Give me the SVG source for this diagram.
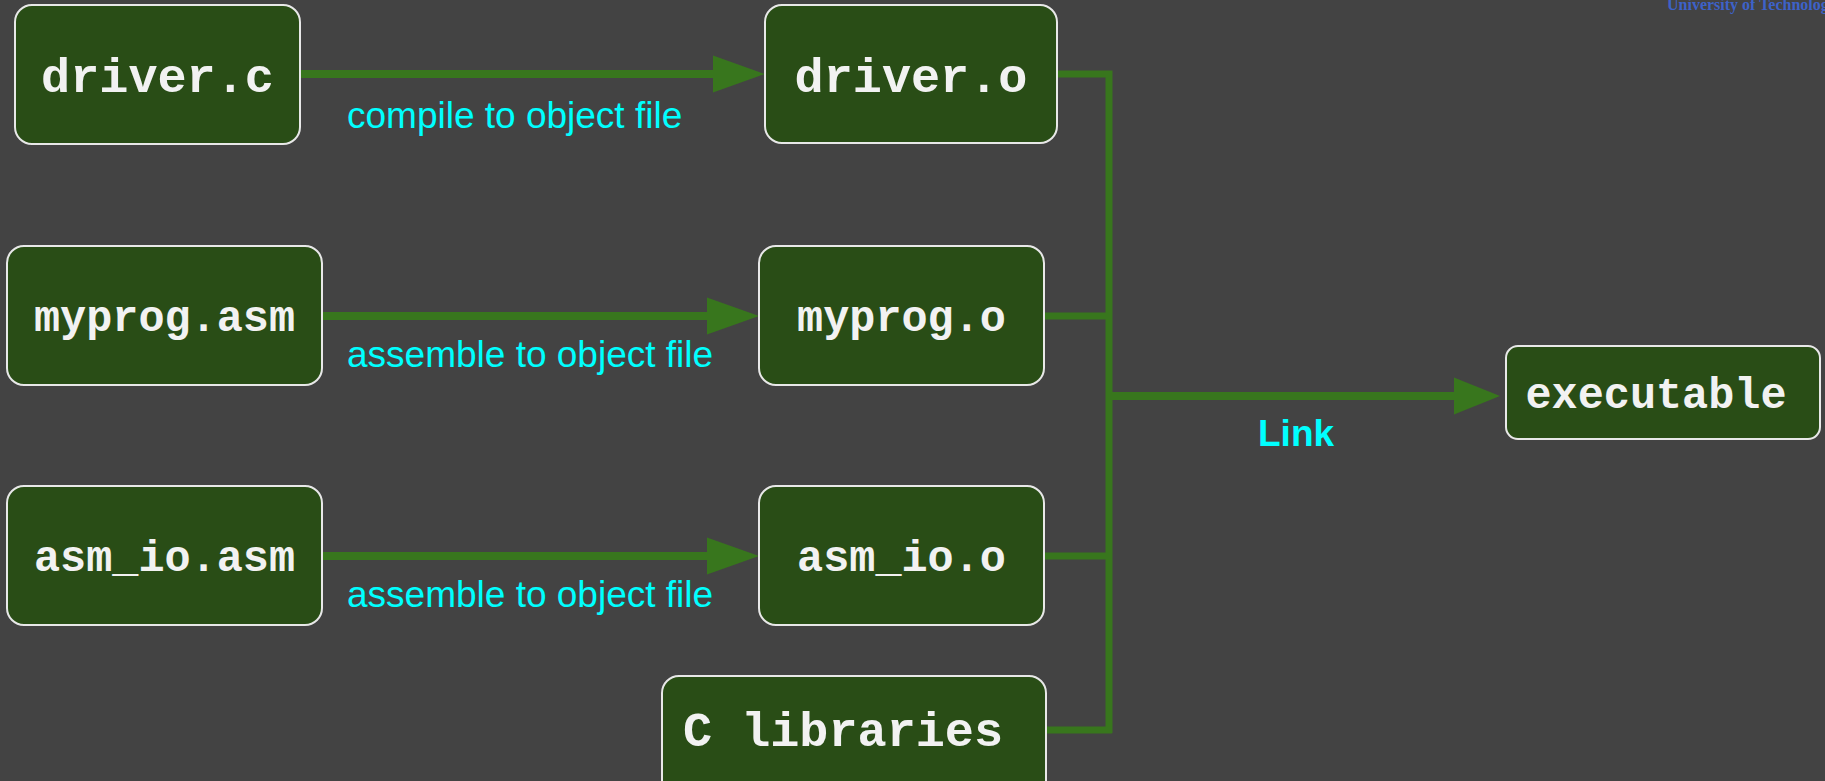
<svg xmlns="http://www.w3.org/2000/svg" width="1825" height="781" viewBox="0 0 1825 781">
  <style>
    .box { fill: #294d16; stroke: #e8e8e8; stroke-width: 2; }
    .nt { font-family: "Liberation Mono", "Courier New", monospace; font-weight: bold; fill: #f2f2f2; text-anchor: middle; }
    .big { font-size: 48.5px; }
    .mid { font-size: 43.5px; }
    .lbl { font-family: "Liberation Sans", Arial, sans-serif; font-size: 37px; fill: #00ffff; }
    .conn { stroke: #38761d; stroke-width: 8; fill: none; }
    .bus { stroke: #38761d; stroke-width: 7; fill: none; }
  </style>
  <defs>
    <marker id="ah" markerUnits="userSpaceOnUse" markerWidth="52" markerHeight="37" viewBox="0 0 52 37" refX="0" refY="18.5" orient="auto" overflow="visible">
      <path d="M0,0 L52,18.5 L0,37 z" fill="#38761d"/>
    </marker>
    <marker id="ahL" markerUnits="userSpaceOnUse" markerWidth="46" markerHeight="37" viewBox="0 0 46 37" refX="0" refY="18.5" orient="auto" overflow="visible">
      <path d="M0,0 L46,18.5 L0,37 z" fill="#38761d"/>
    </marker>
  </defs>
  <rect x="0" y="0" width="1825" height="781" fill="#434343"/>
  <text x="1667" y="10" font-family="'Liberation Serif', 'Times New Roman', serif" font-weight="bold" font-size="16" fill="#3d62c9">University of Technology</text>

  <g id="connectors">
    <line class="conn" x1="300" y1="74" x2="713" y2="74" marker-end="url(#ah)"/>
    <line class="conn" x1="322" y1="316" x2="707" y2="316" marker-end="url(#ah)"/>
    <line class="conn" x1="322" y1="556" x2="707" y2="556" marker-end="url(#ah)"/>
    <polyline class="bus" points="1057,74 1109,74 1109,733"/>
    <line class="bus" x1="1044" y1="316" x2="1109" y2="316"/>
    <line class="bus" x1="1044" y1="556" x2="1109" y2="556"/>
    <line class="bus" x1="1046" y1="730" x2="1112" y2="730"/>
    <line class="conn" x1="1109" y1="396" x2="1454" y2="396" marker-end="url(#ahL)"/>
    <text class="lbl" x="347" y="128">compile to object file</text>
    <text class="lbl" x="347" y="367">assemble to object file</text>
    <text class="lbl" x="347" y="607">assemble to object file</text>
    <text class="lbl" x="1258" y="446" font-weight="bold" font-size="36">Link</text>
  </g>

  <g id="driver_c">
    <rect class="box" x="15" y="5" width="285" height="139" rx="17"/>
    <text class="nt big" x="157.5" y="92">driver.c</text>
  </g>
  <g id="driver_o">
    <rect class="box" x="765" y="5" width="292" height="138" rx="17"/>
    <text class="nt big" x="911" y="92">driver.o</text>
  </g>
  <g id="myprog_asm">
    <rect class="box" x="7" y="246" width="315" height="139" rx="17"/>
    <text class="nt mid" x="164.5" y="331">myprog.asm</text>
  </g>
  <g id="myprog_o">
    <rect class="box" x="759" y="246" width="285" height="139" rx="17"/>
    <text class="nt mid" x="901.5" y="331">myprog.o</text>
  </g>
  <g id="asm_io_asm">
    <rect class="box" x="7" y="486" width="315" height="139" rx="17"/>
    <text class="nt mid" x="164.5" y="571">asm_io.asm</text>
  </g>
  <g id="asm_io_o">
    <rect class="box" x="759" y="486" width="285" height="139" rx="17"/>
    <text class="nt mid" x="901.5" y="571">asm_io.o</text>
  </g>
  <g id="c_libraries">
    <rect class="box" x="662" y="676" width="384" height="130" rx="17"/>
    <text class="nt big" x="843" y="746">C libraries</text>
  </g>
  <g id="executable">
    <rect class="box" x="1506" y="346" width="314" height="93" rx="12"/>
    <text class="nt mid" x="1656" y="408">executable</text>
  </g>
</svg>
